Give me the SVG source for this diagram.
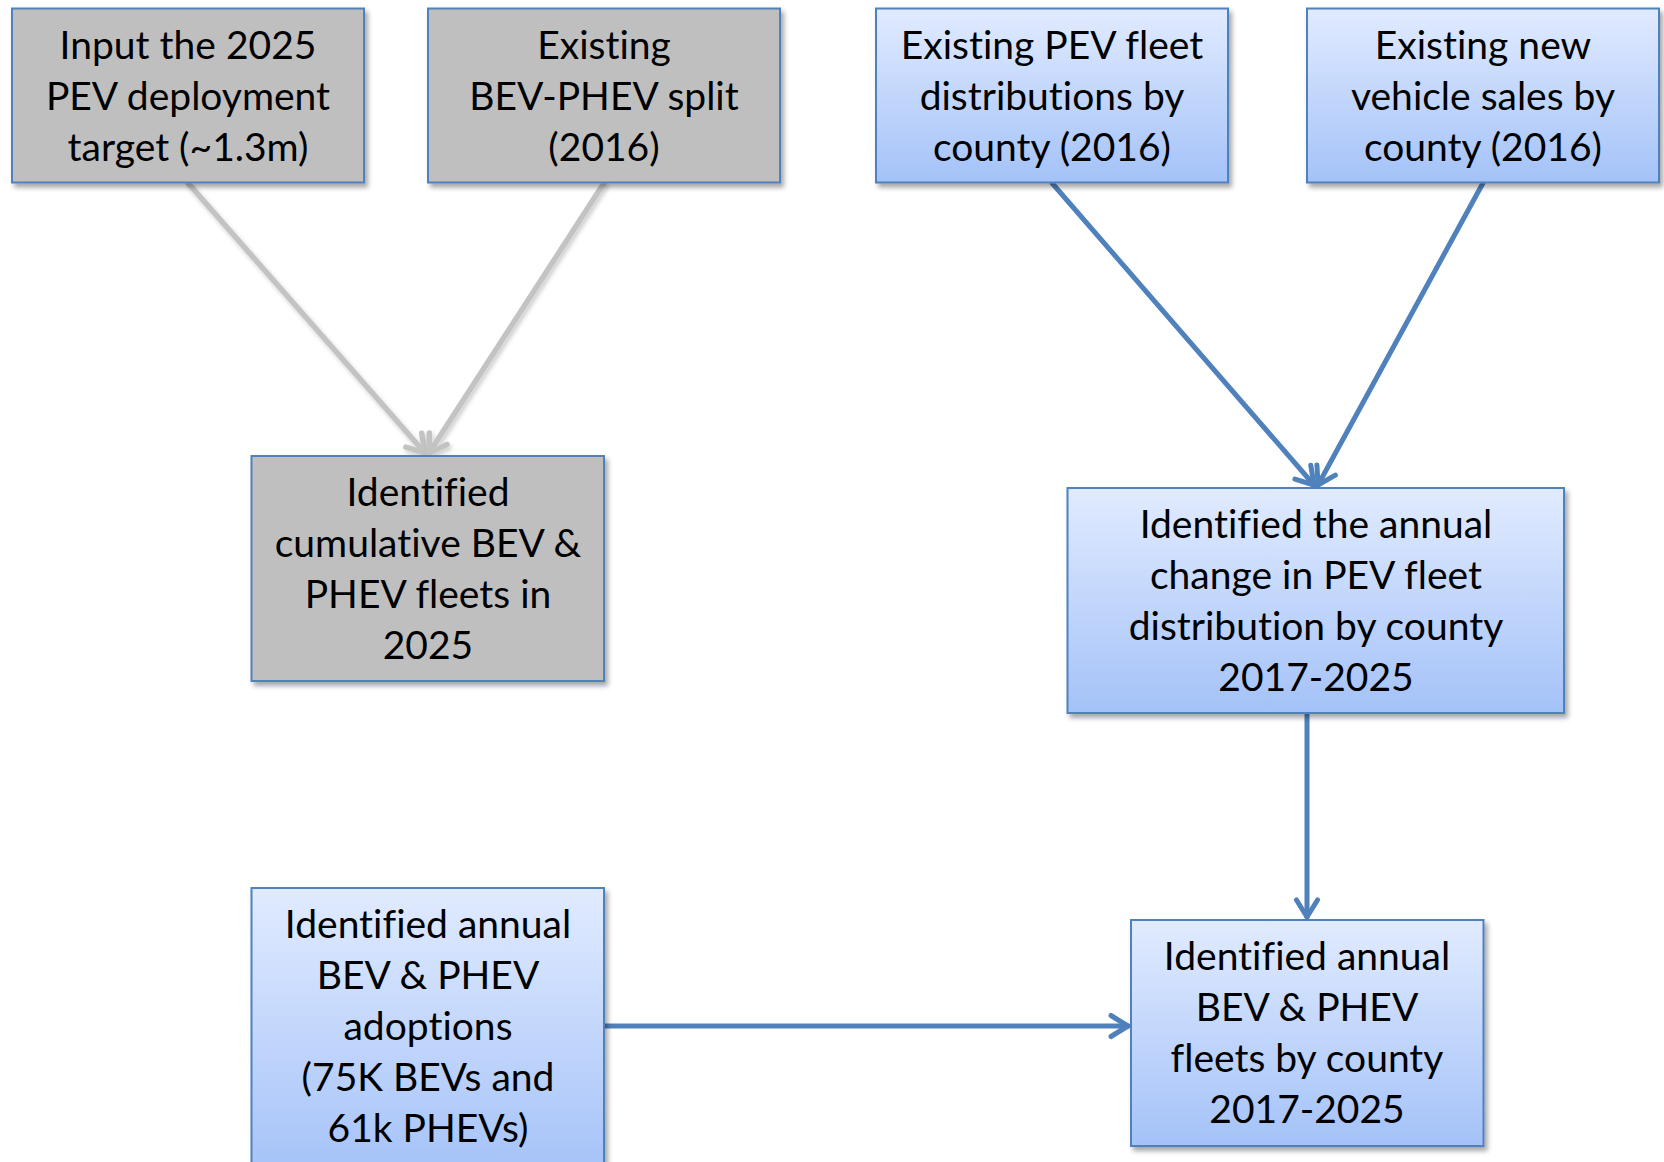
<svg xmlns="http://www.w3.org/2000/svg" width="1664" height="1162" viewBox="0 0 1664 1162">
  <defs>
    <linearGradient id="blueFill" x1="0" y1="0" x2="0" y2="1">
      <stop offset="0" stop-color="#E1EBFF"/>
      <stop offset="1" stop-color="#A4C2F8"/>
    </linearGradient>
    <filter id="shadow" x="-10%" y="-10%" width="125%" height="125%">
      <feDropShadow dx="3" dy="4" stdDeviation="2.5" flood-color="#000" flood-opacity="0.35"/>
    </filter>
    <filter id="lineShadow" x="-20%" y="-20%" width="140%" height="140%">
      <feDropShadow dx="2" dy="3" stdDeviation="2" flood-color="#000" flood-opacity="0.2"/>
    </filter>
    <marker id="headGray" markerUnits="userSpaceOnUse" viewBox="-22 -14 28 28" refX="0" refY="0" markerWidth="28" markerHeight="28" orient="auto">
      <path d="M -17 -10.5 L 0 0 L -17 10.5" fill="none" stroke="#C3C3C3" stroke-width="5.5" stroke-linecap="round" stroke-linejoin="round"/>
    </marker>
    <marker id="headBlue" markerUnits="userSpaceOnUse" viewBox="-22 -14 28 28" refX="0" refY="0" markerWidth="28" markerHeight="28" orient="auto">
      <path d="M -17 -10.5 L 0 0 L -17 10.5" fill="none" stroke="#4F81BD" stroke-width="5" stroke-linecap="round" stroke-linejoin="round"/>
    </marker>
  </defs>
  <style>
    .box { stroke: #4F81BD; stroke-width: 2; filter: url(#shadow); }
    .gray { fill: #BFBFBF; }
    .blue { fill: url(#blueFill); }
    .label { font-family: Lato, "Liberation Sans", sans-serif; font-size: 39px; fill: #000; text-anchor: middle; font-variant-ligatures: none; }
    .conn { fill: none; stroke-linecap: round; }
    .cg { stroke: #C3C3C3; stroke-width: 5.5; marker-end: url(#headGray); filter: url(#lineShadow); }
    .cb { stroke: #4F81BD; stroke-width: 5; marker-end: url(#headBlue); }
  </style>

  <rect width="1664" height="1162" fill="#FFFFFF"/>

  <!-- connectors -->
  <g id="connectors">
    <line class="conn cg" x1="188" y1="183" x2="425" y2="453"/>
    <line class="conn cg" x1="604" y1="183" x2="429" y2="453"/>
    <line class="conn cg" x1="427" y1="683" x2="427" y2="885"/>
    <line class="conn cb" x1="1052" y1="183" x2="1314" y2="485"/>
    <line class="conn cb" x1="1483" y1="183" x2="1318" y2="485"/>
    <line class="conn cb" x1="1307" y1="715" x2="1307" y2="917"/>
    <line class="conn cb" x1="605" y1="1026" x2="1128" y2="1026"/>
  </g>

  <!-- input: deployment target -->
  <g id="node-target">
    <rect class="box gray" x="12" y="8.5" width="352" height="174"/>
    <text class="label" x="188" y="59">Input the 2025</text>
    <text class="label" x="188" y="110">PEV deployment</text>
    <text class="label" x="188" y="161">target (~1.3m)</text>
  </g>

  <!-- input: BEV-PHEV split -->
  <g id="node-split">
    <rect class="box gray" x="428" y="8.5" width="352" height="174"/>
    <text class="label" x="604" y="59">Existing</text>
    <text class="label" x="604" y="110">BEV-PHEV split</text>
    <text class="label" x="604" y="161">(2016)</text>
  </g>

  <!-- input: fleet distributions -->
  <g id="node-fleet-dist">
    <rect class="box blue" x="876" y="8.5" width="352" height="174"/>
    <text class="label" x="1052" y="59">Existing PEV fleet</text>
    <text class="label" x="1052" y="110">distributions by</text>
    <text class="label" x="1052" y="161">county (2016)</text>
  </g>

  <!-- input: new vehicle sales -->
  <g id="node-sales">
    <rect class="box blue" x="1307" y="8.5" width="352" height="174"/>
    <text class="label" x="1483" y="59">Existing new</text>
    <text class="label" x="1483" y="110">vehicle sales by</text>
    <text class="label" x="1483" y="161">county (2016)</text>
  </g>

  <!-- cumulative fleets -->
  <g id="node-cumulative">
    <rect class="box gray" x="251.5" y="456" width="352.5" height="225"/>
    <text class="label" x="428" y="506">Identified</text>
    <text class="label" x="428" y="557">cumulative BEV &amp;</text>
    <text class="label" x="428" y="608">PHEV fleets in</text>
    <text class="label" x="428" y="659">2025</text>
  </g>

  <!-- annual change in distribution -->
  <g id="node-change">
    <rect class="box blue" x="1067.5" y="488" width="496.5" height="225"/>
    <text class="label" x="1316" y="538">Identified the annual</text>
    <text class="label" x="1316" y="589">change in PEV fleet</text>
    <text class="label" x="1316" y="640">distribution by county</text>
    <text class="label" x="1316" y="691">2017-2025</text>
  </g>

  <!-- annual adoptions -->
  <g id="node-adoptions">
    <rect class="box blue" x="251.5" y="888" width="352.5" height="290"/>
    <text class="label" x="428" y="938">Identified annual</text>
    <text class="label" x="428" y="989">BEV &amp; PHEV</text>
    <text class="label" x="428" y="1040">adoptions</text>
    <text class="label" x="428" y="1091">(75K BEVs and</text>
    <text class="label" x="428" y="1142">61k PHEVs)</text>
  </g>

  <!-- annual fleets by county -->
  <g id="node-fleets-county">
    <rect class="box blue" x="1131" y="920" width="352.5" height="226"/>
    <text class="label" x="1307" y="970">Identified annual</text>
    <text class="label" x="1307" y="1021">BEV &amp; PHEV</text>
    <text class="label" x="1307" y="1072">fleets by county</text>
    <text class="label" x="1307" y="1123">2017-2025</text>
  </g>
</svg>
